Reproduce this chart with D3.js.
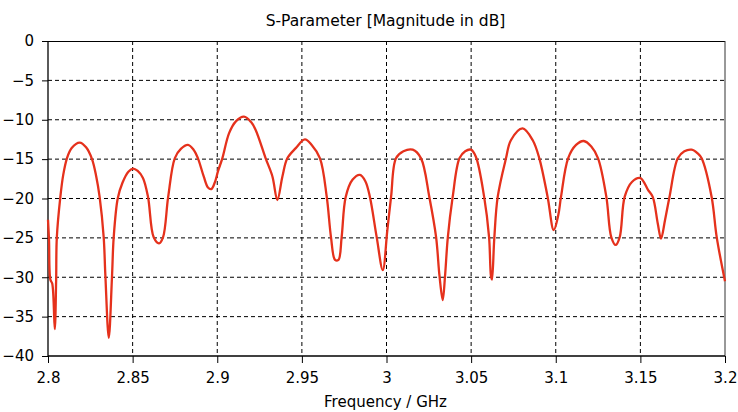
<html>
<head>
<meta charset="utf-8">
<script src="https://d3js.org/d3.v7.min.js"></script>
<style>
  body { margin: 0; background: #fff; }
  text { font-family: "DejaVu Sans", sans-serif; fill: #000; }
</style>
</head>
<body>
<svg class="chart" width="738" height="412"></svg>
<script>

// frequency in GHz, S11 magnitude in dB
let freq = [2.8, 2.8006, 2.8014, 2.8025, 2.804, 2.8048, 2.8052, 2.8073, 2.809, 2.8112,
  2.814, 2.8187, 2.8225, 2.826, 2.8285, 2.8305, 2.8329, 2.8339, 2.8359, 2.8378,
  2.8388, 2.8412, 2.844, 2.8475, 2.8502, 2.853, 2.8561, 2.8591, 2.8624, 2.8656,
  2.868, 2.871, 2.8749, 2.8785, 2.8827, 2.886, 2.8886, 2.892, 2.8945, 2.8965,
  2.8985, 2.9005, 2.903, 2.907, 2.911, 2.9158, 2.92, 2.9227, 2.9286, 2.9326,
  2.9355, 2.9385, 2.9414, 2.9464, 2.9518, 2.9558, 2.9607, 2.9647, 2.9672, 2.9696,
  2.9716, 2.9735, 2.9759, 2.98, 2.9843, 2.9875, 2.9902, 2.9942, 2.9978, 3.0005,
  3.0027, 3.0056, 3.01, 3.0155, 3.0204, 3.0253, 3.0293, 3.0313, 3.0332, 3.0346,
  3.0362, 3.0391, 3.0431, 3.0465, 3.0499, 3.0528, 3.0577, 3.0606, 3.0617, 3.0623,
  3.0637, 3.0657, 3.0706, 3.0735, 3.0804, 3.0864, 3.0903, 3.0952, 3.0988, 3.1015,
  3.1031, 3.1073, 3.112, 3.1165, 3.121, 3.125, 3.1299, 3.1328, 3.1354, 3.1378,
  3.1407, 3.145, 3.15, 3.1545, 3.1573, 3.1603, 3.1622, 3.1646, 3.1672, 3.1721,
  3.176, 3.1803, 3.184, 3.1862, 3.1921, 3.1951, 3.2];

let s11 = [-22.7, -25.3, -30.3, -30.8, -36.6, -30.5, -25.0, -19.8, -17.0, -14.9,
  -13.6, -12.9, -13.5, -15.0, -17.2, -19.8, -24.9, -29.8, -37.7, -30.0,
  -25.0, -20.0, -18.0, -16.6, -16.2, -16.5, -17.4, -19.8, -24.9, -25.7,
  -24.9, -19.8, -14.9, -13.7, -13.2, -13.8, -14.9, -17.2, -18.6, -18.8,
  -18.0, -16.5, -14.9, -11.7, -10.2, -9.6, -10.3, -11.3, -14.9, -17.2,
  -20.2, -17.2, -14.9, -13.6, -12.5, -13.2, -14.9, -19.8, -24.9, -27.8,
  -27.8, -24.9, -19.8, -17.6, -17.0, -17.8, -19.8, -24.9, -29.1, -24.0,
  -19.8, -14.9, -14.0, -13.8, -14.9, -19.8, -24.9, -29.8, -32.9, -29.8,
  -25.0, -19.8, -14.9, -14.0, -13.8, -14.7, -19.8, -24.9, -29.8, -30.3,
  -25.0, -19.8, -14.9, -12.6, -11.1, -12.6, -14.9, -19.8, -24.0, -22.1,
  -19.8, -14.9, -13.2, -12.7, -13.4, -14.9, -19.8, -24.9, -25.9, -24.9,
  -19.8, -17.9, -17.4, -18.9, -19.8, -23.2, -25.1, -22.7, -19.8, -14.9,
  -14.0, -13.8, -14.3, -14.9, -19.8, -24.9, -30.5];

let xTicks = [2.8, 2.85, 2.9, 2.95, 3.0, 3.05, 3.1, 3.15, 3.2];
let xTickLabels = ["2.8", "2.85", "2.9", "2.95", "3", "3.05", "3.1", "3.15", "3.2"];
let yTicks = [0, -5, -10, -15, -20, -25, -30, -35, -40];

const margin = {top: 41, right: 13, bottom: 56, left: 48};
const W = 738, H = 412;
const w = W - margin.left - margin.right;
const h = H - margin.top - margin.bottom;

const svg = d3.select('.chart');
const g = svg.append('g').attr('transform', `translate(${margin.left},${margin.top})`);

let x = d3.scaleLinear().domain([2.8, 3.2]).range([0, w]);
let y = d3.scaleLinear().domain([-40, 0]).range([h, 0]);

// dashed grid
g.append('g').selectAll('line')
    .data(xTicks.slice(1, -1))
    .join('line')
    .attr('x1', d => x(d)).attr('x2', d => x(d))
    .attr('y1', 0).attr('y2', h)
    .attr('stroke', '#000').attr('stroke-dasharray', '4,3');

g.append('g').selectAll('line')
    .data(yTicks.slice(1, -1))
    .join('line')
    .attr('x1', 0).attr('x2', w)
    .attr('y1', d => y(d)).attr('y2', d => y(d))
    .attr('stroke', '#000').attr('stroke-dasharray', '4,3');

// frame
g.append('line').attr('x1', 0).attr('x2', w).attr('y1', 0.5).attr('y2', 0.5).attr('stroke', '#000');
g.append('line').attr('x1', w).attr('x2', w).attr('y1', 0).attr('y2', h).attr('stroke', '#333');

// axes
let xAxis = d3.axisBottom(x).tickValues(xTicks).tickFormat((d, i) => xTickLabels[i])
    .tickSize(7).tickPadding(9);
let yAxis = d3.axisLeft(y).tickValues(yTicks).tickSize(6).tickPadding(8);

let gx = g.append('g').attr('transform', `translate(0,${h})`).call(xAxis);
let gy = g.append('g').call(yAxis);
[gx, gy].forEach(a => {
  a.select('.domain').attr('stroke', '#000').attr('stroke-width', 1.3);
  a.selectAll('.tick line').attr('stroke', '#000');
  a.selectAll('text').style('font-family', '"DejaVu Sans", sans-serif').style('font-size', '15px').attr('fill', '#000');
});
gx.select('.domain').attr('d', `M0,0H${w}`);
gy.select('.domain').attr('d', `M0,0V${h}`);

// curve
let line = d3.line()
    .x((d, i) => x(freq[i]))
    .y(d => y(d))
    .curve(d3.curveCatmullRom.alpha(0.5));

g.append('path')
    .datum(s11)
    .attr('d', line)
    .attr('fill', 'none')
    .attr('stroke', '#e5311c')
    .attr('stroke-width', 2.3)
    .attr('stroke-linejoin', 'round');

// titles
svg.append('text')
    .attr('x', margin.left + w / 2 - 1).attr('y', 26)
    .attr('text-anchor', 'middle')
    .style('font-size', '15.5px')
    .text('S-Parameter [Magnitude in dB]');

svg.append('text')
    .attr('x', margin.left + w / 2 - 1).attr('y', 407)
    .attr('text-anchor', 'middle')
    .style('font-size', '15px')
    .text('Frequency / GHz');

</script>
</body>
</html>
